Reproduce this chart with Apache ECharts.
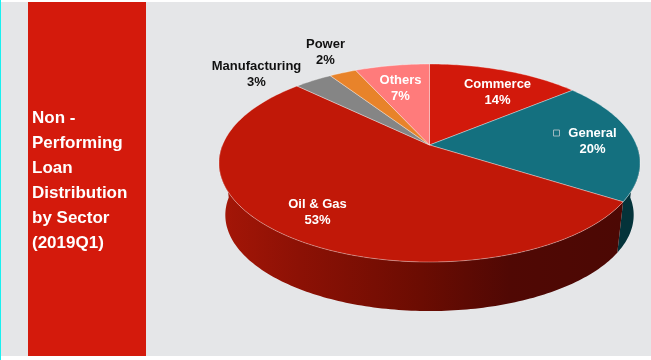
<!DOCTYPE html>
<html>
<head>
<meta charset="utf-8">
<style>
  html, body { margin: 0; padding: 0; background: #fff; }
  #chart { width: 651px; height: 360px; }
</style>
<script src="https://cdn.jsdelivr.net/npm/echarts@6/dist/echarts.min.js"></script>
</head>
<body>
<div id="chart"></div>
<script>
// sectors, clockwise from 12 o'clock
const sectors = ['Commerce', 'General', 'Oil & Gas', 'Manufacturing', 'Power', 'Others']
const shares = [14, 20, 53.2, 3.49, 2.49, 6.82]
const sliceColors = ['#d2190b', '#14707f', '#c11808', '#858585', '#e8832a', '#ff7b7b']
const labelColors = ['#fff', '#fff', '#fff', '#111', '#111', '#fff']
const panelTitle = ['Non -', 'Performing', 'Loan', 'Distribution', 'by Sector', '(2019Q1)']

// label centres, px from the pie apex
const labelOffsets = [[68, -53], [163, -4], [-112, 67], [-173, -71], [-104, -93], [-29, -57]]

// tilt of the pie: k is the perspective strength, wallDrop / wallScale place the lower rim
const k = 0.1818
const wallDrop = 0.549
const wallScale = 0.97

// slice start/end as fractions of the whole
const total = shares.reduce((a, b) => a + b, 0)
let running = 0
const sliceRows = shares.map((v, i) => {
  const row = [running / total, (running + v) / total, i]
  running += v
  return row
})

// fraction round the circle -> pie-space point on the tilted disc
const project = (t, r = 1) => {
  const a = t * Math.PI * 2
  const w = 1 + k * r * Math.cos(a)
  return [r * Math.sin(a) * Math.sqrt(1 - k * k) / w, r * Math.cos(a) / w]
}

const arcPoints = (from, to, r = 1) => {
  const steps = Math.max(2, Math.ceil(Math.abs(to - from) * 360))
  const pts = []
  for (let i = 0; i <= steps; i++) {
    pts.push(project(from + (to - from) * i / steps, r))
  }
  return pts
}

const lower = p => [p[0] * wallScale, p[1] * wallScale - wallDrop]

const oilWallFill = new echarts.graphic.LinearGradient(0, 0, 1, 0, [
  { offset: 0, color: '#a51607' },
  { offset: 0.2, color: '#8c1105' },
  { offset: 0.5, color: '#6b0c02' },
  { offset: 0.72, color: '#500804' },
  { offset: 1, color: '#4c0804' }
])

const renderWall = (params, api) => {
  const start = api.value(0)
  const end = api.value(1)
  const idx = api.value(2)
  // only the front of the rim shows, from 3 o'clock round to 9 o'clock
  const from = Math.max(start, 0.25)
  const to = Math.min(end, 0.75)
  if (to <= from) return null
  const top = arcPoints(from, to)
  const points = top.concat(top.slice().reverse().map(lower)).map(p => api.coord(p))
  return {
    type: 'polygon',
    shape: { points },
    style: { fill: idx === 1 ? '#04333a' : oilWallFill, stroke: 'none' }
  }
}

const renderTop = (params, api) => {
  const start = api.value(0)
  const end = api.value(1)
  const points = [[0, 0]].concat(arcPoints(start, end)).map(p => api.coord(p))
  return {
    type: 'polygon',
    shape: { points },
    style: { fill: sliceColors[api.value(2)], stroke: 'rgba(255,255,255,0.35)', lineWidth: 1 }
  }
}

const renderLabel = (params, api) => {
  const idx = api.value(2)
  const apex = api.coord([0, 0])
  const x = apex[0] + labelOffsets[idx][0]
  const y = apex[1] + labelOffsets[idx][1]
  const children = [{
    type: 'text',
    style: {
      x, y,
      text: sectors[idx] + '\n' + Math.round(shares[idx]) + '%',
      fill: labelColors[idx],
      font: 'bold 13px "Liberation Sans", Arial, sans-serif',
      lineHeight: 16,
      align: 'center',
      verticalAlign: 'middle'
    }
  }]
  // stray bullet in front of General
  if (sectors[idx] === 'General') {
    children.push({
      type: 'rect',
      shape: { x: x - 39, y: y - 11, width: 6, height: 6 },
      style: { fill: 'none', stroke: '#9db9c0', lineWidth: 1 }
    })
  }
  return { type: 'group', children }
}

const chart = echarts.init(document.getElementById('chart'), null, { renderer: 'canvas' })

chart.setOption({
  animation: false,
  tooltip: { show: false },
  title: {
    text: panelTitle.join('\n'),
    left: 27,
    top: 101,
    textStyle: {
      color: '#fff',
      fontFamily: '"Liberation Sans", Arial, sans-serif',
      fontSize: 17,
      fontWeight: 'bold',
      lineHeight: 25
    }
  },
  grid: { left: 219, top: 64, width: 421, height: 198 },
  xAxis: { type: 'value', min: -1, max: 1, show: false },
  yAxis: { type: 'value', min: -1 / (1 - k), max: 1 / (1 + k), show: false },
  graphic: [
    { type: 'rect', z: 0, shape: { x: 0, y: 2, width: 651, height: 354 }, style: { fill: '#e5e6e8' } },
    { type: 'rect', z: 0, shape: { x: 0, y: 0, width: 1, height: 360 }, style: { fill: '#19f0f0' } },
    { type: 'rect', z: 0, shape: { x: 28, y: 2, width: 118, height: 354 }, style: { fill: '#d41a0c' } }
  ],
  series: [
    { type: 'custom', coordinateSystem: 'cartesian2d', data: sliceRows, renderItem: renderWall, clip: false, silent: true, z: 2, encode: { x: 0, y: 1 } },
    { type: 'custom', coordinateSystem: 'cartesian2d', data: sliceRows, renderItem: renderTop, clip: false, silent: true, z: 3, encode: { x: 0, y: 1 } },
    { type: 'custom', coordinateSystem: 'cartesian2d', data: sliceRows, renderItem: renderLabel, clip: false, silent: true, z: 4, encode: { x: 0, y: 1 } }
  ]
})
</script>
</body>
</html>
